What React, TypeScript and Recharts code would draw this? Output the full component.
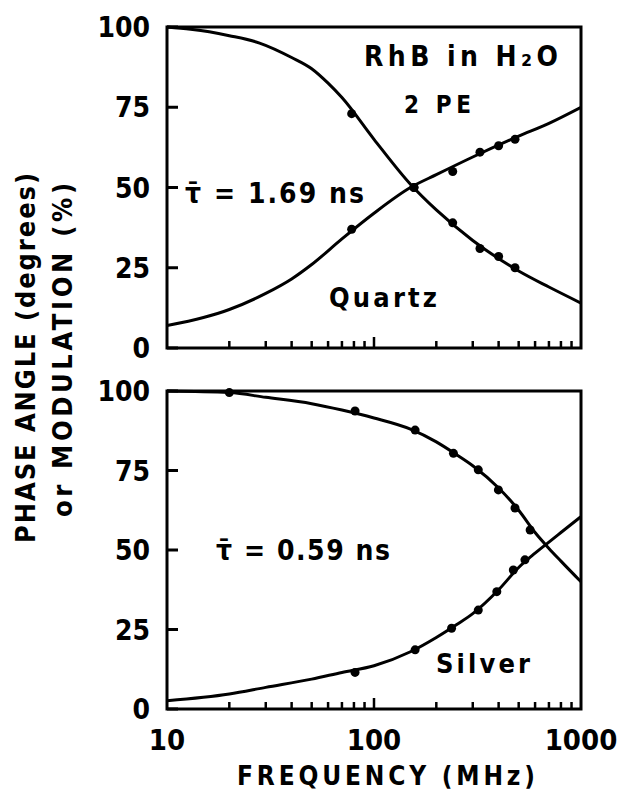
import React from "react";
import {
  ComposedChart,
  Line,
  Scatter,
  XAxis,
  YAxis,
  ReferenceArea,
} from "recharts";

// frequency axis (MHz), log scale
const freqTicks = [10, 20, 30, 40, 50, 60, 70, 80, 90, 100, 200, 300, 400, 500, 600, 700, 800, 900, 1000];
const freqLabels = [10, 100, 1000];
const yTicks = [0, 25, 50, 75, 100];

// top panel: Quartz, tau = 1.69 ns
const quartzFitFreq = [10, 13, 16, 20, 28, 40, 50, 60, 70, 100, 150, 200, 300, 500, 700, 1000];
const quartzFitMod = [100, 99.3, 98.5, 97.3, 95, 90.5, 87, 82.5, 78, 65, 51, 43, 33.5, 24, 19, 14];
const quartzPhaseFreq = [10, 15, 20, 30, 40, 50, 70, 100, 150, 200, 300, 500, 700, 1000];
const quartzFitPhase = [7, 9.5, 12, 17, 21.5, 26, 34, 42, 50, 54, 59.5, 66, 70, 75];
const quartzPtFreq = [78, 156, 240, 325, 400, 480];
const quartzPtMod = [73, 50, 39, 31, 28.5, 25];
const quartzPtPhase = [37, 50, 55, 61, 63, 65];

// bottom panel: Silver, tau = 0.59 ns
const silverModFreq = [10, 20, 30, 50, 70, 100, 150, 200, 250, 300, 400, 500, 600, 700, 800, 1000];
const silverFitMod = [100, 99.5, 98, 96, 94, 91.5, 88, 84, 80, 76.5, 69.5, 62.5, 55.5, 50.5, 46.5, 40];
const silverPhaseFreq = [10, 20, 30, 50, 70, 100, 150, 200, 250, 300, 400, 500, 600, 700, 800, 1000];
const silverFitPhase = [2.6, 4.7, 6.8, 9.4, 11.5, 13.6, 18, 22.5, 26.5, 30, 37.5, 44.5, 49, 52.5, 55.5, 60.5];
const silverModPtFreq = [20, 81, 158, 242, 319, 399, 480, 568];
const silverModPt = [99.5, 93.7, 87.7, 80.4, 75.2, 68.9, 63.2, 56.3];
const silverPhasePtFreq = [81, 158, 237, 319, 392, 471, 536];
const silverPhasePt = [11.5, 18.6, 25.4, 31.1, 36.9, 43.7, 46.9];

const FONT = "'DejaVu Sans Condensed', 'DejaVu Sans', sans-serif";
const INK = "#000";
const Y_AXIS_W = 60;
const X_AXIS_H = 50;

const toRows = (fs: number[], vs: number[]) => fs.map((f, i) => ({ f, v: vs[i] }));

function YTick(props: any) {
  const { x, y, payload } = props;
  return (
    <g>
      <line x1={x} x2={x + 11} y1={y} y2={y} stroke={INK} strokeWidth={3} />
      <text x={x - 17} y={y + 10} textAnchor="end" fontFamily={FONT} fontWeight="bold" fontSize={28} fill={INK}>
        {payload.value}
      </text>
    </g>
  );
}

function XTick(props: any) {
  const { x, y, payload, showLabel } = props;
  const v = payload.value;
  const edge = v === 10 || v === 1000;
  const len = v === 100 ? 11 : 7;
  return (
    <g>
      {!edge && <line x1={x} x2={x} y1={y} y2={y - len} stroke={INK} strokeWidth={2.5} />}
      {showLabel && freqLabels.includes(v) && (
        <text x={x} y={y + 41} textAnchor="middle" fontFamily={FONT} fontWeight="bold" fontSize={29} fill={INK}>
          {v}
        </text>
      )}
    </g>
  );
}

function Dot(props: any) {
  const { cx, cy } = props;
  return <circle cx={cx} cy={cy} r={4.5} fill={INK} />;
}

type PanelProps = {
  top: number;
  bottom: number;
  modFreq: number[];
  mod: number[];
  phaseFreq: number[];
  phase: number[];
  modPtFreq: number[];
  modPt: number[];
  phasePtFreq: number[];
  phasePt: number[];
  showLabels: boolean;
};

function Panel(p: PanelProps) {
  return (
    <div style={{ position: "absolute", left: 0, top: 0 }}>
      <ComposedChart
        width={620}
        height={792}
        margin={{ top: p.top, right: 39, bottom: 792 - p.bottom - X_AXIS_H, left: 167 - Y_AXIS_W }}
      >
        <XAxis
          dataKey="f"
          type="number"
          scale="log"
          domain={[10, 1000]}
          ticks={freqTicks}
          interval={0}
          height={X_AXIS_H}
          tickSize={0}
          tickMargin={0}
          axisLine={false}
          tickLine={false}
          allowDataOverflow
          tick={(t: any) => <XTick {...t} showLabel={p.showLabels} />}
        />
        <YAxis
          type="number"
          domain={[0, 100]}
          ticks={yTicks}
          interval={0}
          width={Y_AXIS_W}
          tickSize={0}
          tickMargin={0}
          axisLine={false}
          tickLine={false}
          tick={(t: any) => <YTick {...t} />}
        />
        <ReferenceArea x1={10} x2={1000} y1={0} y2={100} fill="none" stroke={INK} strokeWidth={3} />
        <Line data={toRows(p.modFreq, p.mod)} dataKey="v" type="monotone" stroke={INK} strokeWidth={3} dot={false} isAnimationActive={false} />
        <Line data={toRows(p.phaseFreq, p.phase)} dataKey="v" type="monotone" stroke={INK} strokeWidth={3} dot={false} isAnimationActive={false} />
        <Scatter data={toRows(p.modPtFreq, p.modPt)} dataKey="v" fill={INK} shape={<Dot />} isAnimationActive={false} />
        <Scatter data={toRows(p.phasePtFreq, p.phasePt)} dataKey="v" fill={INK} shape={<Dot />} isAnimationActive={false} />
      </ComposedChart>
    </div>
  );
}

export default function App() {
  const txt = { fontFamily: FONT, fontWeight: "bold" as const, fill: INK };
  return (
    <div style={{ position: "absolute", left: 0, top: 0, width: 620, height: 792, background: "#fff" }}>
      <Panel
        top={27}
        bottom={348}
        modFreq={quartzFitFreq}
        mod={quartzFitMod}
        phaseFreq={quartzPhaseFreq}
        phase={quartzFitPhase}
        modPtFreq={quartzPtFreq}
        modPt={quartzPtMod}
        phasePtFreq={quartzPtFreq}
        phasePt={quartzPtPhase}
        showLabels={false}
      />
      <Panel
        top={391}
        bottom={709}
        modFreq={silverModFreq}
        mod={silverFitMod}
        phaseFreq={silverPhaseFreq}
        phase={silverFitPhase}
        modPtFreq={silverModPtFreq}
        modPt={silverModPt}
        phasePtFreq={silverPhasePtFreq}
        phasePt={silverPhasePt}
        showLabels={true}
      />
      <svg width={620} height={792} style={{ position: "absolute", left: 0, top: 0, pointerEvents: "none" }}>
        <text x={364} y={66} fontSize={28} textLength={194} lengthAdjust="spacing" {...txt}>RhB in H₂O</text>
        <text x={404} y={113} fontSize={24} textLength={67} lengthAdjust="spacing" {...txt}>2 PE</text>
        <text x={185} y={203} fontSize={28} textLength={179} lengthAdjust="spacing" {...txt}>τ̄ = 1.69 ns</text>
        <text x={329} y={307} fontSize={27} textLength={108} lengthAdjust="spacing" {...txt}>Quartz</text>
        <text x={216} y={560} fontSize={28} textLength={174} lengthAdjust="spacing" {...txt}>τ̄ = 0.59 ns</text>
        <text x={436} y={673} fontSize={27} textLength={94} lengthAdjust="spacing" {...txt}>Silver</text>
        <text x={237} y={785} fontSize={26} textLength={298} lengthAdjust="spacing" {...txt}>FREQUENCY (MHz)</text>
        <text x={35} y={358} transform="rotate(-90 35 358)" textAnchor="middle" fontSize={27} textLength={370} lengthAdjust="spacing" {...txt}>
          PHASE ANGLE (degrees)
        </text>
        <text x={72} y={350} transform="rotate(-90 72 350)" textAnchor="middle" fontSize={27} textLength={334} lengthAdjust="spacing" {...txt}>
          or MODULATION (%)
        </text>
      </svg>
    </div>
  );
}
